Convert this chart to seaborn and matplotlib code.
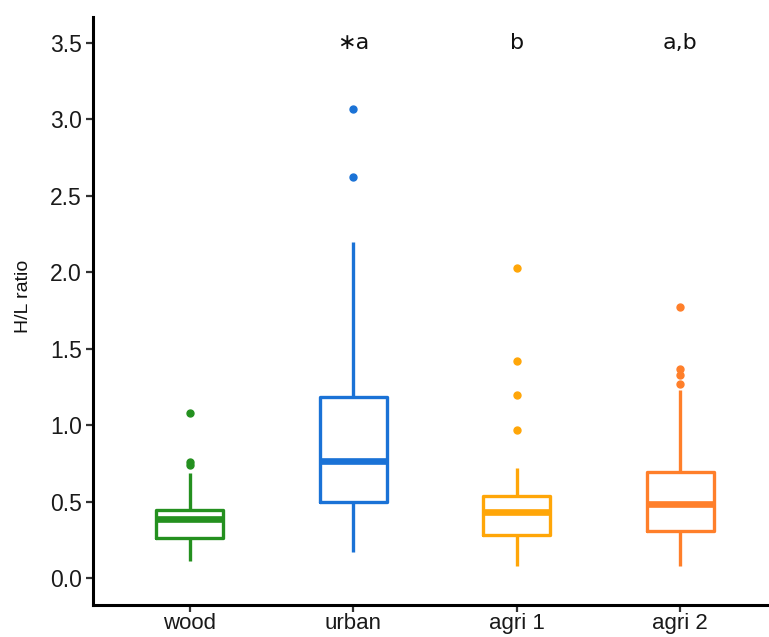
import numpy as np
import pandas as pd
import matplotlib
matplotlib.use("Agg")
import matplotlib.pyplot as plt
import seaborn as sns

# Land-use categories and their colours
groups = ["wood", "urban", "agri 1", "agri 2"]
colors = ["#24901f", "#1a72d6", "#ffa608", "#ff7f2a"]

# Five-number summaries of the H/L ratio per group
whisk_low = [0.11, 0.17, 0.08, 0.08]
q1 = [0.262, 0.498, 0.28, 0.31]
median = [0.387, 0.767, 0.43, 0.485]
q3 = [0.446, 1.186, 0.537, 0.69]
whisk_high = [0.688, 2.20, 0.72, 1.23]

# Outlying observations per group
outliers = [
    [0.74, 0.76, 1.08],
    [2.62, 3.07],
    [0.97, 1.20, 1.42, 2.03],
    [1.27, 1.33, 1.37, 1.77],
]

# Significance letters shown above each box
letters = ["", "\u2217a", "b", "a,b"]

# Expand each summary into an ordered sample whose quartiles, whisker ends
# and outliers reproduce the summary under the usual 1.5*IQR rule.
rows = []
for i, g in enumerate(groups):
    m = len(outliers[i]) + 1
    vals = ([whisk_low[i]] + [q1[i]] * m + [median[i]] * m + [q3[i]] * m
            + [whisk_high[i]] + list(outliers[i]))
    rows += [(g, v) for v in vals]
df = pd.DataFrame(rows, columns=["group", "ratio"])

sns.set_theme(style="ticks")
plt.rcParams["font.family"] = ["Liberation Sans", "DejaVu Sans"]

fig = plt.figure(figsize=(7.69, 6.37), dpi=100)
ax = fig.add_axes([93 / 769, 32 / 637, (769 - 93) / 769, (605 - 17) / 637])

sns.boxplot(
    data=df, x="group", y="ratio", hue="group", order=groups, hue_order=groups,
    palette=colors, fill=False, width=0.41, linewidth=2.4, showcaps=False,
    whis=1.5, legend=False, ax=ax,
    medianprops=dict(linewidth=4.8),
    flierprops=dict(marker="o", markersize=5.0),
)

# Fill outlier dots with their group colour
for line in ax.lines:
    if line.get_marker() == "o":
        line.set_markerfacecolor(line.get_markeredgecolor())

for i, lab in enumerate(letters):
    if lab:
        ax.text(i, 3.5, lab, ha="center", va="center", fontsize=16,
                family="DejaVu Sans", color="#111111")

ax.set_xlim(-0.593, 3.544)
ax.set_ylim(-0.177, 3.67)
ax.set_yticks(np.arange(0, 3.51, 0.5))
ax.set_yticklabels([f"{v:.1f}" for v in np.arange(0, 3.51, 0.5)])
ax.set_xlabel("")
ax.set_ylabel("H/L ratio", fontsize=14, color="#111111")
ax.yaxis.set_label_coords(-0.09, 0.525)

sns.despine(ax=ax)
for side in ("left", "bottom"):
    ax.spines[side].set_linewidth(2.2)
    ax.spines[side].set_color("black")
ax.tick_params(axis="both", direction="out", length=5, width=1.6,
               color="#333333", labelsize=16.5, labelcolor="#1a1a1a", pad=3)
ax.tick_params(axis="x", labelsize=16, pad=0.5)

fig.savefig("out.png", dpi=100, facecolor="white")
